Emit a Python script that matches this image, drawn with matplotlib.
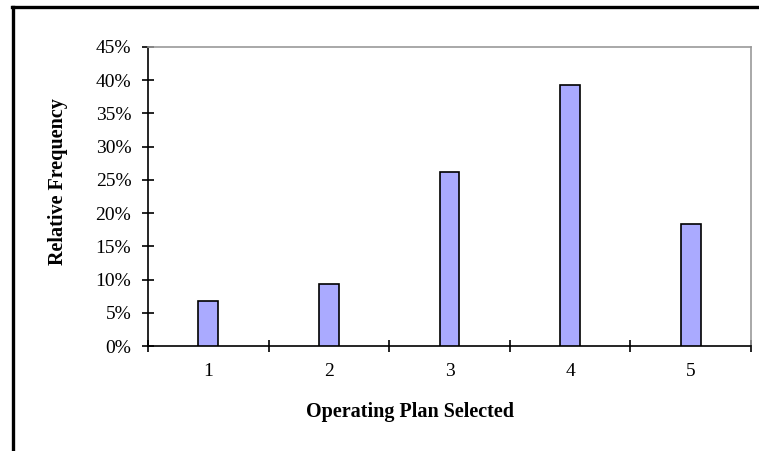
import matplotlib.pyplot as plt
from matplotlib.lines import Line2D
from matplotlib.ticker import FixedLocator, FuncFormatter

plans = [1, 2, 3, 4, 5]
rel_freq = [0.068, 0.093, 0.262, 0.393, 0.184]
y_ticks = [0, 0.05, 0.10, 0.15, 0.20, 0.25, 0.30, 0.35, 0.40, 0.45]

plt.rcParams['font.family'] = ['Liberation Serif', 'DejaVu Serif']

fig = plt.figure(figsize=(7.59, 4.51), dpi=100)
ax = fig.add_axes([0.195, 0.2328, 0.7945, 0.663])

ax.bar(plans, rel_freq, width=0.165, color='#aaaaff', edgecolor='black', linewidth=1.2, zorder=3)

ax.set_xlim(0.5, 5.5)
ax.set_ylim(0, 0.45)
ax.set_yticks(y_ticks)
ax.yaxis.set_major_formatter(FuncFormatter(lambda v, p: f"{round(v * 100)}%"))

# ticks between categories, labels under the bars
ax.xaxis.set_major_locator(FixedLocator([p - 0.5 for p in plans] + [plans[-1] + 0.5]))
ax.xaxis.set_major_formatter(FuncFormatter(lambda v, p: ""))
ax.xaxis.set_minor_locator(FixedLocator(plans))
ax.set_xticklabels([str(p) for p in plans], minor=True)
ax.tick_params(axis='x', which='minor', length=0, pad=12, labelsize=14)
ax.tick_params(axis='x', which='major', direction='inout', length=8, width=1.2)
ax.tick_params(axis='y', direction='inout', length=8, width=1.2, labelsize=14, pad=8)

for s in ['left', 'bottom']:
    ax.spines[s].set_linewidth(1.2)
for s in ['top', 'right']:
    ax.spines[s].set_color('#999999')
    ax.spines[s].set_linewidth(1.2)

# axis titles placed as in the original layout
fig.text(0.0764, 0.5965, 'Relative Frequency', fontsize=14.5, fontweight='bold',
         rotation=90, ha='center', va='center')
fig.text(0.540, 0.0865, 'Operating Plan Selected', fontsize=14.5, fontweight='bold',
         ha='center', va='center')

# outer frame (top and left edges)
fig.add_artist(Line2D([0.016, 1.0], [0.9845, 0.9845], color='black', linewidth=2.4))
fig.add_artist(Line2D([0.0171, 0.0171], [0.0, 0.9845], color='black', linewidth=2.4))

fig.savefig('out.png', dpi=100)
